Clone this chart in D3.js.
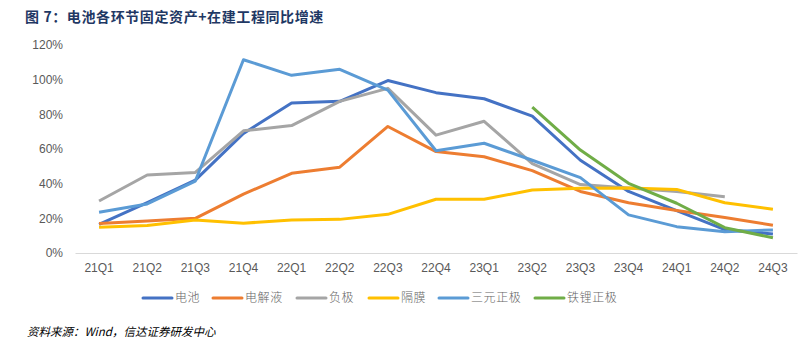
<!DOCTYPE html>
<html>
<head>
<meta charset="utf-8">
<script src="https://cdn.jsdelivr.net/npm/d3@7"></script>
<style>
  body { margin: 0; background: #fff; }
  text { font-family: "Liberation Sans", Arial, "Noto Sans CJK SC", sans-serif; }
  .cjk { font-family: "Noto Sans CJK SC", sans-serif; }
</style>
</head>
<body>
<div id="chart"></div>
<script>
var quarters = ["21Q1","21Q2","21Q3","21Q4","22Q1","22Q2","22Q3","22Q4","23Q1","23Q2","23Q3","23Q4","24Q1","24Q2","24Q3"];
var yTicks = [0, 20, 40, 60, 80, 100, 120];

// % growth, null where no data
var battery     = [16.5, 29, 42, 69, 86.5, 87.5, 99.5, 92.5, 89, 79, 53.5, 35.5, 24.5, 13.5, 11];
var electrolyte = [17, 18.5, 20, 34, 46, 49.5, 73, 58.5, 55.5, 47.5, 35.5, 29, 24.5, 20.5, 16];
var anode       = [30, 45, 46.5, 70.5, 73.5, 87.5, 95, 68, 76, 51.5, 39.5, 37.5, 35.5, 32.5, null];
var separator   = [14.8, 15.8, 19, 17.2, 19, 19.4, 22.3, 31, 31, 36.3, 37.3, 37.5, 36.7, 29, 25.2];
var ncm         = [23.5, 28.3, 41.5, 111.5, 102.5, 106, 94, 59, 63.3, 53.5, 43.5, 22, 15.2, 12.3, 13.3];
var lfp         = [null, null, null, null, null, null, null, null, null, 84.2, 59.4, 40.2, 28.7, 14.6, 8.8];

var seriesNames  = ["电池", "电解液", "负极", "隔膜", "三元正极", "铁锂正极"];
var seriesColors = ["#4472C4", "#ED7D31", "#A5A5A5", "#FFC000", "#5B9BD5", "#70AD47"];
var seriesData   = [battery, electrolyte, anode, separator, ncm, lfp];

var width = 812, height = 342;

var svg = d3.select("#chart").append("svg")
    .attr("width", width)
    .attr("height", height);

// title
svg.append("text")
    .attr("class", "cjk")
    .attr("x", 25)
    .attr("y", 22)
    .attr("fill", "#1F3864")
    .attr("font-size", 14)
    .attr("font-weight", "bold")
    .attr("letter-spacing", 0.6)
    .text("图 7：电池各环节固定资产+在建工程同比增速");

var x = d3.scaleBand()
    .domain(quarters)
    .range([75, 797]);

var y = d3.scaleLinear()
    .domain([0, 120])
    .range([253, 45]);

// y axis labels
var yAxis = d3.axisLeft(y)
    .tickValues(yTicks)
    .tickSize(0)
    .tickPadding(0)
    .tickFormat(function(d) { return d + "%"; });

svg.append("g")
    .attr("transform", "translate(63,0)")
    .call(yAxis)
    .call(function(g) { g.select(".domain").remove(); })
    .selectAll("text")
      .attr("fill", "#595959")
      .attr("font-size", 12)
      .attr("font-family", "Liberation Sans, Arial, sans-serif");

// x axis
var xAxis = d3.axisBottom(x)
    .tickSize(0)
    .tickPadding(10);

svg.append("g")
    .attr("transform", "translate(0," + y(0) + ")")
    .call(xAxis)
    .call(function(g) {
      g.select(".domain").attr("stroke", "#D9D9D9").attr("stroke-width", 1);
    })
    .selectAll("text")
      .attr("fill", "#595959")
      .attr("font-size", 12)
      .attr("font-family", "Liberation Sans, Arial, sans-serif");

var line = d3.line()
    .defined(function(d) { return d != null; })
    .x(function(d, i) { return x(quarters[i]) + x.bandwidth() / 2; })
    .y(function(d) { return y(d); });

svg.append("g").selectAll("path")
    .data(seriesData)
    .enter().append("path")
      .attr("fill", "none")
      .attr("stroke", function(d, i) { return seriesColors[i]; })
      .attr("stroke-width", 3)
      .attr("stroke-linejoin", "round")
      .attr("d", line);

// legend
var legendX = [143, 213, 297, 369, 439, 535];
var legend = svg.append("g").selectAll("g")
    .data(seriesNames)
    .enter().append("g")
      .attr("transform", function(d, i) { return "translate(" + legendX[i] + ",298)"; });

legend.append("line")
    .attr("x1", 0).attr("x2", 29)
    .attr("stroke", function(d, i) { return seriesColors[i]; })
    .attr("stroke-width", 3)
    .attr("stroke-linecap", "round");

legend.append("text")
    .attr("class", "cjk")
    .attr("x", 32)
    .attr("dy", "0.35em")
    .attr("fill", "#666")
    .attr("font-size", 12)
    .attr("font-weight", 300)
    .attr("letter-spacing", 0.6)
    .text(function(d) { return d; });

// source
svg.append("text")
    .attr("class", "cjk")
    .attr("x", 27)
    .attr("y", 336)
    .attr("fill", "#000")
    .attr("font-size", 11.5)
    .attr("font-style", "italic")
    .text("资料来源：Wind，信达证券研发中心");
</script>
</body>
</html>
